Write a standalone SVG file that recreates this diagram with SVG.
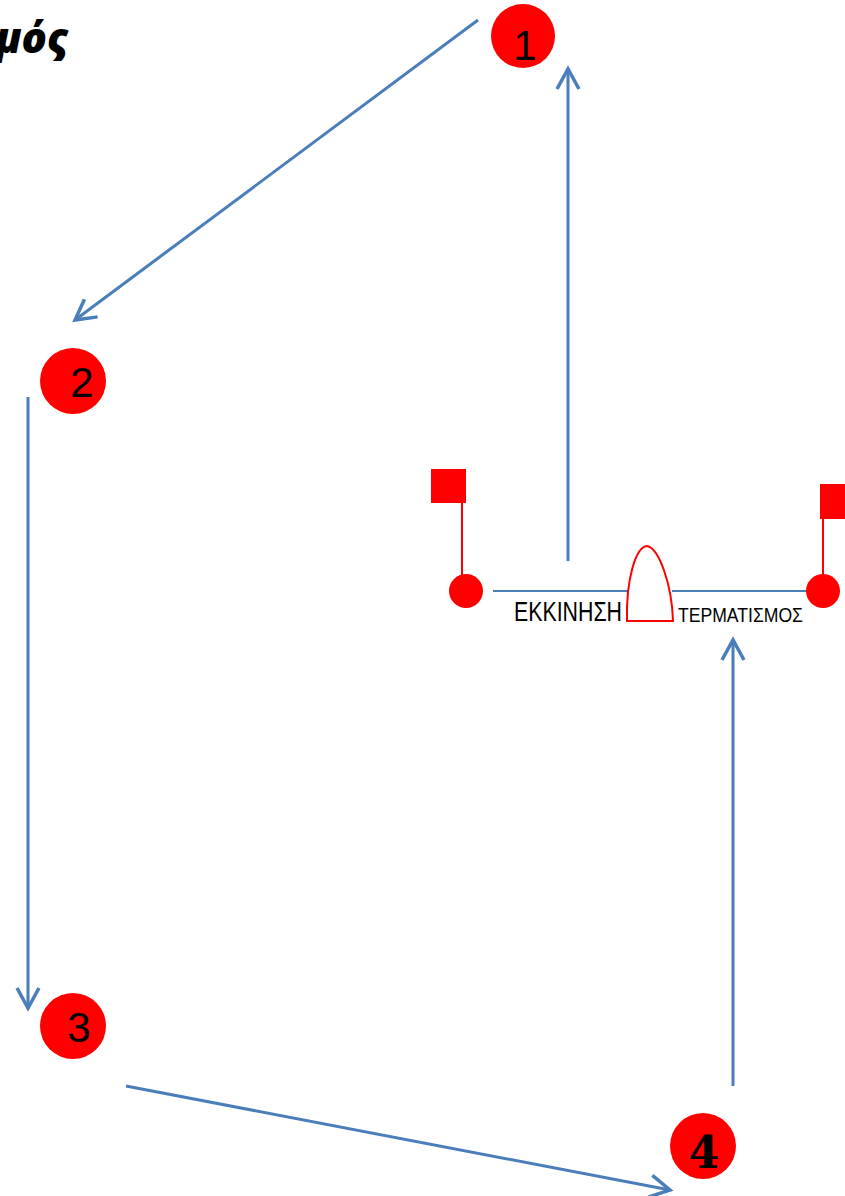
<svg xmlns="http://www.w3.org/2000/svg" width="845" height="1196" viewBox="0 0 845 1196">
<style>
.conn{stroke:#4a7ebb;stroke-width:3;fill:none}
.thin{stroke:#4a7ebb;stroke-width:2;fill:none}
.mark{fill:#ff0000}
.num{font-family:"Liberation Sans",Arial,sans-serif;font-size:42px;fill:#000}
.red{stroke:#ff0000;stroke-width:2;fill:none}
</style>
<defs>
<marker id="arr" markerUnits="userSpaceOnUse" viewBox="-22 -13 26 26" markerWidth="26" markerHeight="26" refX="0" refY="0" orient="auto">
<path d="M-20,-11 L0,0 L-20,11" fill="none" stroke="#4a7ebb" stroke-width="3.5"/>
</marker>
</defs>
<rect width="845" height="1196" fill="#fff"/>
<text x="68" y="53" text-anchor="end" font-family="'Open Sans','Noto Sans',sans-serif" font-size="42" font-weight="800" font-style="italic" fill="#000">μός</text>
<g id="connectors">
<line class="conn" x1="568" y1="561" x2="568" y2="69" marker-end="url(#arr)"/>
<line class="conn" x1="478" y1="20" x2="75" y2="320" marker-end="url(#arr)"/>
<line class="conn" x1="28" y1="397" x2="28" y2="1008" marker-end="url(#arr)"/>
<line class="conn" x1="126" y1="1086" x2="670" y2="1190" marker-end="url(#arr)"/>
<line class="conn" x1="733" y1="1086" x2="733" y2="640" marker-end="url(#arr)"/>
</g>
<g id="node1">
<circle class="mark" cx="523" cy="36" r="32"/>
<text class="num" x="525" y="60" text-anchor="middle">1</text>
</g>
<g id="node2">
<circle class="mark" cx="73" cy="381" r="33"/>
<text class="num" x="82" y="397" text-anchor="middle">2</text>
</g>
<g id="node3">
<circle class="mark" cx="73" cy="1026" r="33"/>
<text class="num" x="79" y="1042" text-anchor="middle">3</text>
</g>
<g id="node4">
<circle class="mark" cx="703" cy="1146" r="33"/>
<text x="704" y="1168" text-anchor="middle" font-family="'DejaVu Serif','Liberation Serif',serif" font-weight="bold" font-size="44" fill="#000">4</text>
</g>
<g id="startline">
<line class="thin" x1="493" y1="591" x2="628" y2="591"/>
<line class="thin" x1="672" y1="591" x2="810" y2="591"/>
<rect class="mark" x="431" y="469" width="35" height="34"/>
<line x1="462" y1="503" x2="462" y2="580" stroke="#ff0000" stroke-width="2"/>
<circle class="mark" cx="466" cy="591" r="17"/>
<rect class="mark" x="820" y="484" width="30" height="35"/>
<line x1="823" y1="519" x2="823" y2="580" stroke="#ff0000" stroke-width="2"/>
<circle class="mark" cx="823" cy="591" r="17"/>
<path class="red" d="M627,621 C626,578 636,547 647,546 C659,548 672,585 673,621 Z"/>
<text x="514" y="621" font-family="'Liberation Sans',Arial,sans-serif" font-size="27" fill="#000" textLength="108" lengthAdjust="spacingAndGlyphs">ΕΚΚΙΝΗΣΗ</text>
<text x="678" y="622" font-family="'Liberation Sans',Arial,sans-serif" font-size="20" fill="#000" textLength="125" lengthAdjust="spacingAndGlyphs">ΤΕΡΜΑΤΙΣΜΟΣ</text>
</g>
</svg>
